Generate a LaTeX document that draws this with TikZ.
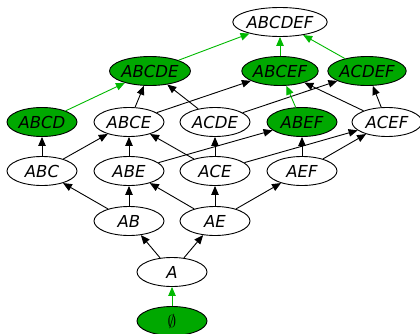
\documentclass[tikz,border=0pt]{standalone}
\usepackage{fontspec}
\setmainfont{DejaVu Sans}
\usetikzlibrary{shapes.geometric,arrows.meta}
\definecolor{setgreen}{RGB}{0,168,0}
\definecolor{pathgreen}{RGB}{0,185,0}
\begin{document}
\begin{tikzpicture}[x=1pt,y=1pt,every node/.style={set},
				set/.style={ellipse,draw,line width=0.9pt,minimum width=70pt,minimum height=29pt,inner sep=0pt,
					font=\fontsize{16.5}{19}\selectfont\itshape},
				chosen/.style={set,fill=setgreen},
				link/.style={line width=0.9pt,-{Triangle[length=9pt,width=7.5pt]}},
				path/.style={link,pathgreen}]
				\useasboundingbox (0,0) rectangle (420,333);
				\node[chosen] (E)      at (172,12)  {\fontsize{18}{20}\selectfont$\emptyset$};
				\node (A)              at (172,61)  {A};
				\node (AB)             at (129,112) {AB};
				\node (AE)             at (215,112) {AE};
				\node (ABC)            at (42,162)  {ABC};
				\node (ABE)            at (129,162) {ABE};
				\node (ACE)            at (215,162) {ACE};
				\node (AEF)            at (302,162) {AEF};
				\node[chosen] (ABCD)   at (42,211)  {ABCD};
				\node (ABCE)           at (129,211) {ABCE};
				\node (ACDE)           at (215,211) {ACDE};
				\node[chosen] (ABEF)   at (302,211) {ABEF};
				\node (ACEF)           at (387,211) {ACEF};
				\node[chosen] (ABCDE)  at (150,262) {ABCDE};
				\node[chosen] (ABCEF)  at (280,262) {ABCEF};
				\node[chosen] (ACDEF)  at (367,262) {ACDEF};
				\node (ABCDEF)         at (280,311) {ABCDEF};
				
				\draw[link] (A) -- (AB);
				\draw[link] (A) -- (AE);
				\draw[link] (AB) -- (ABC);
				\draw[link] (AB) -- (ABE);
				\draw[link] (AE) -- (ABE);
				\draw[link] (AE) -- (ACE);
				\draw[link] (AE) -- (AEF);
				\draw[link] (ABC) -- (ABCD);
				\draw[link] (ABC) -- (ABCE);
				\draw[link] (ABE) -- (ABCE);
				\draw[link] (ABE) -- (ABEF);
				\draw[link] (ACE) -- (ABCE);
				\draw[link] (ACE) -- (ACDE);
				\draw[link] (ACE) -- (ACEF);
				\draw[link] (AEF) -- (ABEF);
				\draw[link] (AEF) -- (ACEF);
				\draw[link] (ABCE) -- (ABCDE);
				\draw[link] (ABCE) -- (ABCEF);
				\draw[link] (ACDE) -- (ABCDE);
				\draw[link] (ACDE) -- (ACDEF);
				\draw[link] (ACEF) -- (ABCEF);
				\draw[link] (ACEF) -- (ACDEF);
				% the green chain up to the top
				\draw[path] (E) -- (A);
				\draw[path] (ABCD) -- (ABCDE);
				\draw[path] (ABEF) -- (ABCEF);
				\draw[path] (ABCDE) -- (ABCDEF);
				\draw[path] (ABCEF) -- (ABCDEF);
				\draw[path] (ACDEF) -- (ABCDEF);
			\end{tikzpicture}
\end{document}
